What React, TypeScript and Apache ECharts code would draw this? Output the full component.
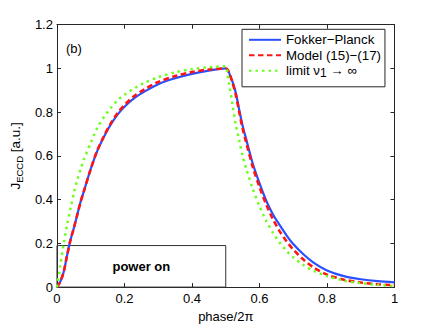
import React, { useEffect, useRef } from "react";
import * as echarts from "echarts";

// phase/2π sample points shared by the three curves
const phase = [
  0, 0.01, 0.02, 0.03, 0.04, 0.05, 0.06, 0.07, 0.08, 0.1,
  0.12, 0.14, 0.16, 0.18, 0.2, 0.23, 0.26, 0.3, 0.35, 0.4,
  0.45, 0.5, 0.505, 0.51, 0.52, 0.53, 0.54, 0.55, 0.56, 0.58,
  0.6, 0.62, 0.64, 0.66, 0.68, 0.7, 0.73, 0.76, 0.8, 0.85,
  0.9, 0.95, 1.0,
];

const fokkerPlanck = [
  0, 0.025, 0.07, 0.145, 0.215, 0.27, 0.33, 0.39, 0.44, 0.54,
  0.625, 0.69, 0.745, 0.79, 0.825, 0.865, 0.895, 0.928, 0.955, 0.975,
  0.99, 1.0, 0.995, 0.98, 0.94, 0.888, 0.81, 0.738, 0.68, 0.565,
  0.475, 0.395, 0.332, 0.283, 0.237, 0.197, 0.15, 0.112, 0.076, 0.05,
  0.036, 0.027, 0.022,
];

const model1517 = [
  0, 0.025, 0.07, 0.145, 0.215, 0.27, 0.33, 0.39, 0.44, 0.54,
  0.627, 0.693, 0.75, 0.797, 0.833, 0.875, 0.905, 0.938, 0.965, 0.984,
  0.995, 1.0, 0.995, 0.98, 0.935, 0.878, 0.8, 0.725, 0.665, 0.55,
  0.458, 0.378, 0.31, 0.255, 0.21, 0.172, 0.126, 0.09, 0.057, 0.034,
  0.021, 0.013, 0.009,
];

const limitNu = [
  0, 0.1, 0.2, 0.285, 0.36, 0.43, 0.49, 0.54, 0.585, 0.66,
  0.73, 0.78, 0.82, 0.855, 0.88, 0.91, 0.935, 0.96, 0.982, 0.997,
  1.005, 1.01, 0.97, 0.93, 0.835, 0.74, 0.67, 0.6, 0.545, 0.45,
  0.37, 0.303, 0.248, 0.203, 0.166, 0.136, 0.101, 0.075, 0.05, 0.03,
  0.018, 0.01, 0.005,
];

const seriesNames = ["Fokker\u2212Planck", "Model (15)\u2212(17)", "limit \u03bd1 \u2192 \u221e"];
const legendLabels = [
  "{a|Fokker\u2212Planck}",
  "{a|Model (15)\u2212(17)}",
  "{a|limit \u03bd}{s|1}{a| \u2192 \u221e}",
];

// "power on" interval (phase/2π) and box height
const powerOnPhase = [0, 0.5];
const powerOnLevel = [0, 0.19];

const xRange = [0, 1];
const yRange = [0, 1.2];
const tickStep = 0.2;

const FONT = "'Liberation Sans', Arial, Helvetica, sans-serif";
const AXIS_COLOR = "#262626";

export default function App() {
  const ref = useRef<HTMLDivElement>(null);

  useEffect(() => {
    if (!ref.current) return;
    const chart = echarts.init(ref.current, null, { renderer: "svg" });

    const pairs = (ys: number[]) => phase.map((x, i) => [x, ys[i]]);

    const axisCommon = {
      type: "value" as const,
      interval: tickStep,
      splitLine: { show: false },
      axisLine: { show: true, onZero: false, lineStyle: { color: AXIS_COLOR, width: 1 } },
      axisTick: { show: true, inside: true, length: 4, lineStyle: { color: AXIS_COLOR } },
    };

    const legendMap: Record<string, string> = {};
    seriesNames.forEach((n, i) => (legendMap[n] = legendLabels[i]));

    chart.setOption({
      animation: false,
      backgroundColor: "#fff",
      textStyle: { fontFamily: FONT },
      grid: { left: 56.5, right: 41.5, top: 24.7, bottom: 37.5, containLabel: false },
      xAxis: [
        {
          ...axisCommon,
          min: xRange[0],
          max: xRange[1],
          position: "bottom",
          axisLabel: { color: "#000", fontSize: 13, margin: 5, fontFamily: FONT },
          name: "phase/2\u03c0",
          nameLocation: "middle",
          nameGap: 18,
          nameTextStyle: { color: "#000", fontSize: 13, fontFamily: FONT },
        },
        {
          ...axisCommon,
          min: xRange[0],
          max: xRange[1],
          position: "top",
          axisLabel: { show: false },
        },
      ],
      yAxis: [
        {
          ...axisCommon,
          min: yRange[0],
          max: yRange[1],
          position: "left",
          axisLabel: { color: "#000", fontSize: 13, margin: 4, fontFamily: FONT },
          name: "{a|J}{s|ECCD}{a| [a.u.]}",
          nameLocation: "middle",
          nameGap: 30,
          nameTextStyle: {
            color: "#000",
            fontFamily: FONT,
            rich: {
              a: { fontSize: 13.5, lineHeight: 18, color: "#000", fontFamily: FONT },
              s: { fontSize: 9.5, lineHeight: 2, verticalAlign: "bottom", color: "#000", fontFamily: FONT },
            },
          },
        },
        {
          ...axisCommon,
          min: yRange[0],
          max: yRange[1],
          position: "right",
          axisLabel: { show: false },
        },
      ],
      legend: {
        orient: "vertical",
        left: 242,
        top: 29.3,
        padding: [4, 4, 8, 6],
        itemWidth: 32,
        itemHeight: 14,
        itemGap: 2.5,
        backgroundColor: "#fff",
        borderColor: AXIS_COLOR,
        borderWidth: 1,
        borderRadius: 0,
        data: seriesNames,
        itemStyle: { color: "rgba(0,0,0,0)", borderWidth: 0, opacity: 0 },
        formatter: (name: string) => legendMap[name] || name,
        textStyle: {
          color: "#000",
          fontFamily: FONT,
          rich: {
            a: { fontSize: 13.3, lineHeight: 16, color: "#000", fontFamily: FONT },
            s: { fontSize: 12, lineHeight: 2, verticalAlign: "bottom", color: "#000", fontFamily: FONT },
          },
        },
      },
      graphic: [
        {
          type: "text",
          left: 66,
          top: 42,
          style: { text: "(b)", fontSize: 13, fontFamily: FONT, fill: "#000" },
        },
      ],
      series: [
        {
          name: seriesNames[0],
          type: "line",
          data: pairs(fokkerPlanck),
          showSymbol: false,
          symbol: "none",
          smooth: 0.3,
          lineStyle: { color: "#2a4fff", width: 2.2, type: "solid" },
          itemStyle: { color: "#2a4fff" },
          z: 3,
          markArea: {
            silent: true,
            itemStyle: { color: "rgba(0,0,0,0)", borderColor: "#333", borderWidth: 1 },
            label: {
              show: true,
              position: "inside",
              fontWeight: "bold",
              fontSize: 13,
              color: "#000",
              fontFamily: FONT,
            },
            data: [
              [
                { name: "power on", coord: [powerOnPhase[0], powerOnLevel[0]] },
                { coord: [powerOnPhase[1], powerOnLevel[1]] },
              ],
            ],
          },
        },
        {
          name: seriesNames[1],
          type: "line",
          data: pairs(model1517),
          showSymbol: false,
          symbol: "none",
          smooth: 0.3,
          lineStyle: { color: "#ff1414", width: 2.6, type: [5.5, 3.5] },
          itemStyle: { color: "#ff1414" },
          z: 4,
        },
        {
          name: seriesNames[2],
          type: "line",
          data: pairs(limitNu),
          showSymbol: false,
          symbol: "none",
          smooth: 0.3,
          lineStyle: { color: "#6cff1c", width: 2.5, type: [2.5, 4] },
          itemStyle: { color: "#6cff1c" },
          z: 5,
        },
      ],
    });

    return () => chart.dispose();
  }, []);

  return (
    <div
      ref={ref}
      style={{ position: "fixed", left: 0, top: 0, width: 436, height: 328, background: "#fff" }}
    />
  );
}
